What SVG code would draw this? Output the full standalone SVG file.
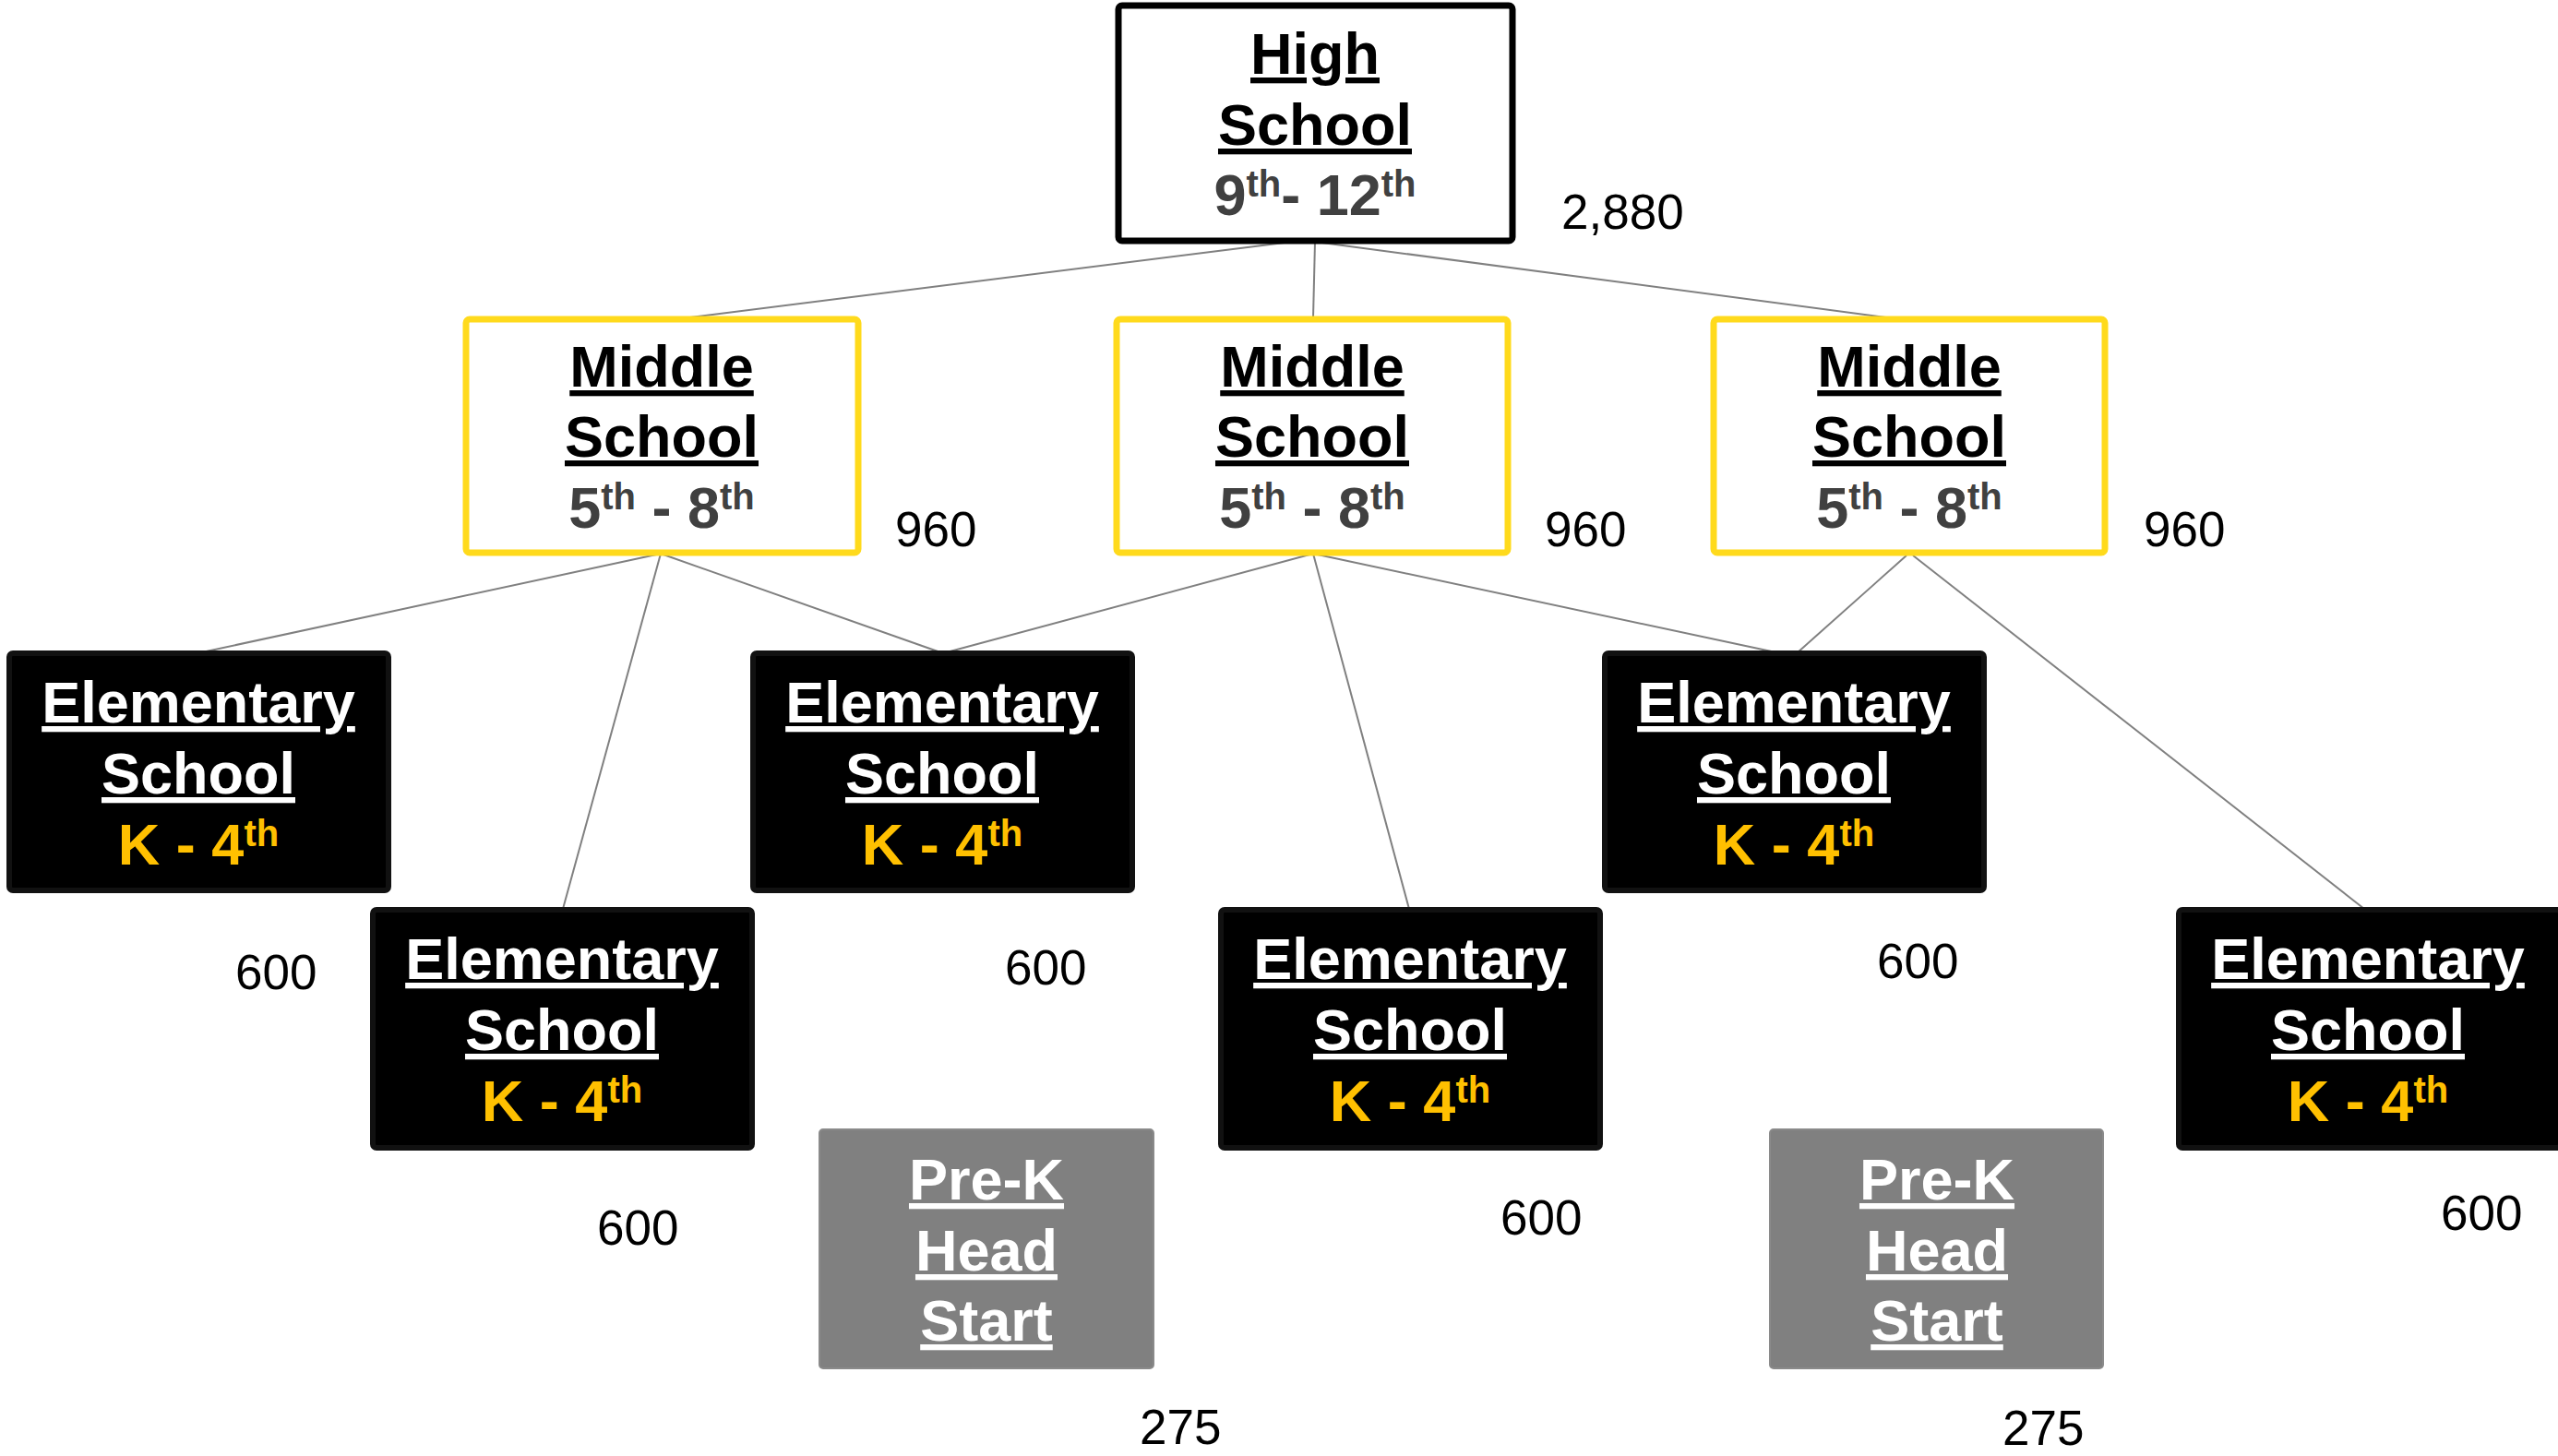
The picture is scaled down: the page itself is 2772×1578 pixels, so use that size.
<svg xmlns="http://www.w3.org/2000/svg" width="2772" height="1578" viewBox="0 0 2772 1578">
<style>
.t{font-family:"Liberation Sans",Arial,sans-serif;font-weight:bold;font-size:63px;text-anchor:middle}
.u{text-decoration:underline}
.blk{fill:#000}
.wht{fill:#fff}
.dg{fill:#404040}
.gold{fill:#FFC000}
.sup{font-size:40px}
.num{font-family:"Liberation Sans",Arial,sans-serif;font-size:53px;fill:#000}
.hs{fill:#fff;stroke:#000;stroke-width:7}
.ms{fill:#fff;stroke:#FFDA1C;stroke-width:7}
.es{fill:#000;stroke:#111;stroke-width:6}
.pk{fill:#808080;stroke:#8a8a8a;stroke-width:2}
.c line{stroke:#808080;stroke-width:2}
</style>
<rect width="2772" height="1578" fill="#fff"/>
<g id="connectors" class="c">
<line x1="1400" y1="262" x2="740" y2="345"/>
<line x1="1425" y1="262" x2="1423" y2="345"/>
<line x1="1425" y1="262" x2="2051" y2="345"/>
<line x1="716" y1="600" x2="214" y2="708"/>
<line x1="716" y1="600" x2="610" y2="985"/>
<line x1="716" y1="600" x2="1022" y2="708"/>
<line x1="1423" y1="600" x2="1022" y2="708"/>
<line x1="1423" y1="600" x2="1527" y2="985"/>
<line x1="1423" y1="600" x2="1929" y2="708"/>
<line x1="2066" y1="602" x2="1947" y2="708"/>
<line x1="2073" y1="602" x2="2562" y2="985"/>
</g>
<g id="high-school">
<rect class="hs" x="1212" y="6" width="427" height="255" rx="4"/>
<text class="t u blk" x="1425" y="80">High</text>
<text class="t u blk" x="1425" y="157">School</text>
<text class="t dg" x="1425" y="233">9<tspan class="sup" dy="-20">th</tspan><tspan dy="20">- 12</tspan><tspan class="sup" dy="-20">th</tspan></text>
<text class="num" x="1692" y="248">2,880</text>
</g>
<g id="middle-1">
<rect class="ms" x="505" y="346" width="425" height="253" rx="4"/>
<text class="t u blk" x="717" y="419">Middle</text>
<text class="t u blk" x="717" y="495">School</text>
<text class="t dg" x="717" y="572">5<tspan class="sup" dy="-20">th</tspan><tspan dy="20"> - 8</tspan><tspan class="sup" dy="-20">th</tspan></text>
<text class="num" x="970" y="592">960</text>
</g>
<g id="middle-2">
<rect class="ms" x="1210" y="346" width="424" height="253" rx="4"/>
<text class="t u blk" x="1422" y="419">Middle</text>
<text class="t u blk" x="1422" y="495">School</text>
<text class="t dg" x="1422" y="572">5<tspan class="sup" dy="-20">th</tspan><tspan dy="20"> - 8</tspan><tspan class="sup" dy="-20">th</tspan></text>
<text class="num" x="1674" y="592">960</text>
</g>
<g id="middle-3">
<rect class="ms" x="1857" y="346" width="424" height="253" rx="4"/>
<text class="t u blk" x="2069" y="419">Middle</text>
<text class="t u blk" x="2069" y="495">School</text>
<text class="t dg" x="2069" y="572">5<tspan class="sup" dy="-20">th</tspan><tspan dy="20"> - 8</tspan><tspan class="sup" dy="-20">th</tspan></text>
<text class="num" x="2323" y="592">960</text>
</g>
<g id="elementary-1">
<rect class="es" x="10" y="708" width="411" height="257" rx="4"/>
<text class="t u wht" x="215" y="783">Elementary</text>
<text class="t u wht" x="215" y="860">School</text>
<text class="t gold" x="215" y="937">K - 4<tspan class="sup" dy="-20">th</tspan></text>
<text class="num" x="255" y="1072">600</text>
</g>
<g id="elementary-2">
<rect class="es" x="404" y="986" width="411" height="258" rx="4"/>
<text class="t u wht" x="609" y="1061">Elementary</text>
<text class="t u wht" x="609" y="1138">School</text>
<text class="t gold" x="609" y="1215">K - 4<tspan class="sup" dy="-20">th</tspan></text>
<text class="num" x="647" y="1349">600</text>
</g>
<g id="elementary-3">
<rect class="es" x="816" y="708" width="411" height="257" rx="4"/>
<text class="t u wht" x="1021" y="783">Elementary</text>
<text class="t u wht" x="1021" y="860">School</text>
<text class="t gold" x="1021" y="937">K - 4<tspan class="sup" dy="-20">th</tspan></text>
<text class="num" x="1089" y="1067">600</text>
</g>
<g id="elementary-4">
<rect class="es" x="1323" y="986" width="411" height="258" rx="4"/>
<text class="t u wht" x="1528" y="1061">Elementary</text>
<text class="t u wht" x="1528" y="1138">School</text>
<text class="t gold" x="1528" y="1215">K - 4<tspan class="sup" dy="-20">th</tspan></text>
<text class="num" x="1626" y="1338">600</text>
</g>
<g id="elementary-5">
<rect class="es" x="1739" y="708" width="411" height="257" rx="4"/>
<text class="t u wht" x="1944" y="783">Elementary</text>
<text class="t u wht" x="1944" y="860">School</text>
<text class="t gold" x="1944" y="937">K - 4<tspan class="sup" dy="-20">th</tspan></text>
<text class="num" x="2034" y="1060">600</text>
</g>
<g id="elementary-6">
<rect class="es" x="2361" y="986" width="414" height="258" rx="4"/>
<text class="t u wht" x="2566" y="1061">Elementary</text>
<text class="t u wht" x="2566" y="1138">School</text>
<text class="t gold" x="2566" y="1215">K - 4<tspan class="sup" dy="-20">th</tspan></text>
<text class="num" x="2645" y="1333">600</text>
</g>
<g id="prek-1">
<rect class="pk" x="888" y="1224" width="362" height="259" rx="4"/>
<text class="t u wht" x="1069" y="1300">Pre-K</text>
<text class="t u wht" x="1069" y="1377">Head</text>
<text class="t u wht" x="1069" y="1453">Start</text>
<text class="num" x="1235" y="1565">275</text>
</g>
<g id="prek-2">
<rect class="pk" x="1918" y="1224" width="361" height="259" rx="4"/>
<text class="t u wht" x="2099" y="1300">Pre-K</text>
<text class="t u wht" x="2099" y="1377">Head</text>
<text class="t u wht" x="2099" y="1453">Start</text>
<text class="num" x="2170" y="1566">275</text>
</g>
</svg>
